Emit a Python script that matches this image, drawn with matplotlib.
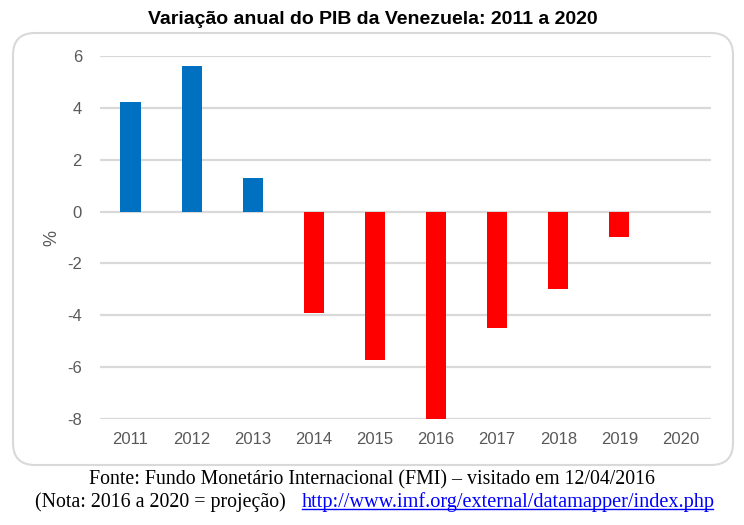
import numpy as np
import matplotlib
matplotlib.use("Agg")
import matplotlib.pyplot as plt
from matplotlib.patches import FancyBboxPatch
from matplotlib.transforms import IdentityTransform
from matplotlib.lines import Line2D

anos = ['2011', '2012', '2013', '2014', '2015', '2016', '2017', '2018', '2019', '2020']
variacao = [4.2, 5.6, 1.3, -3.9, -5.7, -8.0, -4.5, -3.0, -1.0, 0.0]
yticks = [-8, -6, -4, -2, 0, 2, 4, 6]

W, H = 744, 525
fig = plt.figure(figsize=(W / 100, H / 100), dpi=100)
fig.patch.set_facecolor('white')

# rounded chart frame (pixel coords)
frame = FancyBboxPatch((13, H - 465), 720, 432, boxstyle='round,pad=0,rounding_size=22',
                       transform=IdentityTransform(), facecolor='none',
                       edgecolor='#d9d9d9', linewidth=1.5, zorder=-1)
fig.patches.append(frame)

ax = fig.add_axes([100 / W, 1 - 419.3 / H, 611 / W, (419.3 - 55.7) / H])
ax.set_facecolor('none')

x = np.arange(len(anos))
cores = ['#0070c0' if v > 0 else '#ff0000' for v in variacao]
ax.bar(x, variacao, width=0.33, color=cores, zorder=3)

ax.set_xlim(-0.5, len(anos) - 0.5)
ax.set_ylim(-8, 6)
ax.set_yticks(yticks)
ax.set_yticklabels([str(t) for t in yticks])
ax.set_xticks(x)
ax.set_xticklabels(anos)
ax.yaxis.grid(True, color='#d9d9d9', linewidth=1.6, zorder=0)
ax.set_axisbelow(True)
for s in ax.spines.values():
    s.set_visible(False)
ax.tick_params(axis='both', length=0, colors='#595959', labelsize=12)
ax.tick_params(axis='y', pad=13)
ax.tick_params(axis='x', pad=9)
for lbl in ax.get_xticklabels() + ax.get_yticklabels():
    lbl.set_family('Liberation Sans')
ax.set_ylabel('%', color='#595959', fontsize=13, family='Liberation Sans', labelpad=5)

fig.text(373 / W, 1 - 20 / H, 'Variação anual do PIB da Venezuela: 2011 a 2020',
         ha='center', va='center', fontsize=14, fontweight='bold',
         family='Liberation Sans', color='black')

fig.text(372 / W, 1 - 480 / H,
         'Fonte: Fundo Monetário Internacional (FMI) – visitado em 12/04/2016',
         ha='center', va='center', fontsize=14.3, family='Liberation Serif')
fig.text(286 / W, 1 - 502 / H, '(Nota: 2016 a 2020 = projeção)',
         ha='right', va='center', fontsize=14.3, family='Liberation Serif')
link = fig.text(302 / W, 1 - 502 / H, 'http://www.imf.org/external/datamapper/index.php',
                ha='left', va='center', fontsize=14.6, family='Liberation Serif',
                color='#0000ff')

fig.canvas.draw()
bb = link.get_window_extent()
uy = bb.y0 + 3
fig.lines.append(Line2D([bb.x0, bb.x1 - 2], [uy, uy], transform=IdentityTransform(),
                        color='#0000ff', linewidth=1))

fig.savefig('out.png', dpi=100)
